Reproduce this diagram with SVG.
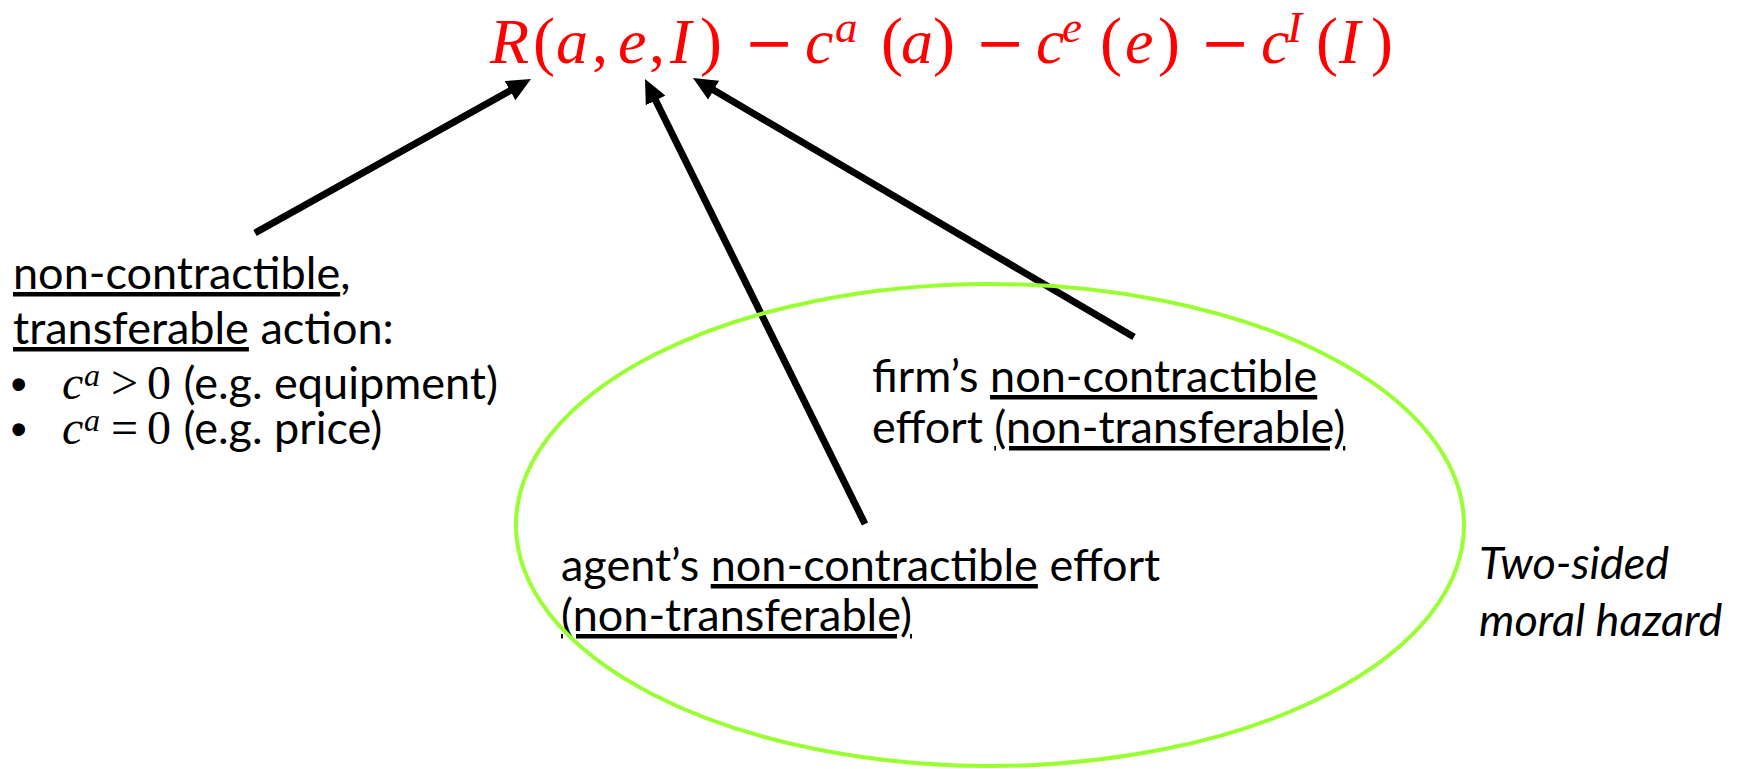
<svg xmlns="http://www.w3.org/2000/svg" width="1748" height="769" viewBox="0 0 1748 769">
<style>
.t{font-family:Lato,"Open Sans",sans-serif;font-size:45px;fill:#000}
.u{text-decoration:underline;text-decoration-thickness:3px}
.m{font-family:"Liberation Serif",serif;fill:#f00;font-size:64px}
.i{font-style:italic}
.p{font-size:66px}
.mn{font-family:"DejaVu Serif",serif;font-size:60px}
.sup{font-size:45px}
.bm{font-family:"Liberation Serif",serif;font-size:48px;fill:#000}
.bs{font-size:32px}
.bul{font-family:"Liberation Sans",sans-serif;font-size:44px;font-weight:bold}
.arrow{stroke:#000;stroke-width:7;fill:none;marker-end:url(#ah)}
</style>
<defs>
<marker id="ah" markerUnits="userSpaceOnUse" markerWidth="24" markerHeight="22" refX="8" refY="11" orient="auto">
<path d="M0,0 L24,11 L0,22 z" fill="#000"/>
</marker>
</defs>
<rect width="1748" height="769" fill="#fff"/>
<g id="formula">
<text class="m" y="63"><tspan class="i" x="490">R</tspan><tspan class="p" x="533">(</tspan><tspan class="i" x="556">a</tspan><tspan x="592">,</tspan><tspan class="i" x="618">e</tspan><tspan x="649">,</tspan><tspan class="i" x="670">I</tspan><tspan class="p" x="700">)</tspan><tspan class="mn" x="744">−</tspan><tspan class="i" x="805">c</tspan><tspan class="i sup" x="835" y="42">a</tspan><tspan class="p" x="881" y="63">(</tspan><tspan class="i" x="901">a</tspan><tspan class="p" x="933">)</tspan><tspan class="mn" x="975">−</tspan><tspan class="i" x="1036">c</tspan><tspan class="i sup" x="1062" y="42">e</tspan><tspan class="p" x="1100" y="63">(</tspan><tspan class="i" x="1125">e</tspan><tspan class="p" x="1158">)</tspan><tspan class="mn" x="1200">−</tspan><tspan class="i" x="1261">c</tspan><tspan class="i sup" x="1287" y="42">I</tspan><tspan class="p" x="1316" y="63">(</tspan><tspan class="i" x="1339">I</tspan><tspan class="p" x="1371">)</tspan></text>
</g>
<g id="connectors">
<line class="arrow" x1="255" y1="233" x2="517.0" y2="86.8"/>
<line class="arrow" x1="865" y1="524" x2="652.1" y2="93.3"/>
<line class="arrow" x1="1134" y1="337" x2="706.8" y2="86.1"/>
</g>
<g id="label-action">
<text class="t" x="13" y="289"><tspan class="u">non-contractible</tspan>,</text>
<text class="t" x="13" y="344"><tspan class="u">transferable</tspan> action:</text>
<text class="t" y="399"><tspan class="bul" x="11">•</tspan><tspan class="bm i" x="62">c</tspan><tspan class="bm i bs" x="84" y="386">a</tspan><tspan class="bm" x="111" y="399">&gt;</tspan><tspan class="bm" x="147">0</tspan><tspan x="172"> (e.g. equipment)</tspan></text>
<text class="t" y="444"><tspan class="bul" x="11">•</tspan><tspan class="bm i" x="62">c</tspan><tspan class="bm i bs" x="84" y="431">a</tspan><tspan class="bm" x="111" y="444">=</tspan><tspan class="bm" x="147">0</tspan><tspan x="172"> (e.g. price)</tspan></text>
</g>
<g id="label-firm">
<text class="t" x="872" y="392">firm’s <tspan class="u">non-contractible</tspan></text>
<text class="t" x="872" y="443">effort <tspan class="u">(non-transferable)</tspan></text>
</g>
<g id="label-agent">
<text class="t" x="561" y="581">agent’s <tspan class="u">non-contractible</tspan> effort</text>
<text class="t" x="561" y="631"><tspan class="u">(non-transferable)</tspan></text>
</g>
<g id="label-two-sided">
<text class="t i" x="1479" y="579">Two-sided</text>
<text class="t i" x="1479" y="636">moral hazard</text>
</g>
<g id="region-ellipse">
<ellipse cx="990" cy="525" rx="474" ry="241" fill="none" stroke="#99ff33" stroke-width="4"/>
</g>
</svg>
